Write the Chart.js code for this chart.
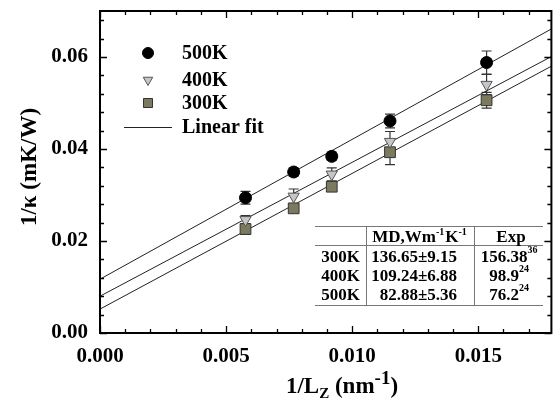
<!DOCTYPE html>
<html><head><meta charset="utf-8">
<script src="https://cdn.jsdelivr.net/npm/chart.js@4/dist/chart.umd.min.js"></script>
<style>html,body{margin:0;padding:0;background:#fff}#wrap{width:560px;height:401px;position:relative}</style>
</head><body><div id="wrap"><canvas id="c"></canvas></div>
<script>
// ---- data ----
const xValues = [0.00577, 0.00768, 0.00919, 0.0115, 0.01533];
const k500 = [0.0294, 0.0350, 0.0384, 0.0461, 0.0588];
const k400 = [0.0246, 0.0297, 0.0345, 0.0416, 0.0540];
const k300 = [0.0226, 0.0271, 0.0318, 0.0393, 0.0506];
const err500 = [0.0014, 0.0009, 0.0009, 0.0015, 0.0025];
const err400 = [0.0009, 0.0016, 0.0014, 0.0022, 0.0022];
const err300 = [0.0011, 0.0008, 0.0010, 0.0027, 0.0017];
const fitX = [0, 0.0179];
const fit500 = [0.0117, 0.0661];
const fit400 = [0.0080, 0.0601];
const fit300 = [0.0052, 0.0580];
const seriesNames = ['500K', '400K', '300K'];
const fitName = 'Linear fit';
const xTickLabels = ['0.000', '0.005', '0.010', '0.015'];
const yTickLabels = ['0.00', '0.02', '0.04', '0.06'];
const xMajor = 0.005, xMinor = 0.001, yMajor = 0.02, yMinor = 0.004;
const tableRowNames = ['300K', '400K', '500K'];
const tableMD = ['136.65\u00b19.15', '109.24\u00b16.88', '82.88\u00b15.36'];
const tableExp = ['156.38', '98.9', '76.2'];
const tableExpRef = ['36', '24', '24'];

const SERIF = '"Liberation Serif", "Times New Roman", serif';
const styles = [
  {pointStyle: 'circle', radius: 6, bg: '#000', border: '#000', rot: 0},
  {pointStyle: 'triangle', radius: 6.5, bg: '#c6c6c6', border: '#555', rot: 180},
  {pointStyle: 'rect', radius: 7.6, bg: '#7b7a5f', border: '#333', rot: 0}
];
const seriesVals = [k500, k400, k300];
const seriesErr = [err500, err400, err300];
const fits = [fit500, fit400, fit300];

function pts(xs, ys) { return xs.map((x, i) => ({x: x, y: ys[i]})); }

const datasets = [];
seriesVals.forEach((v, i) => {
  datasets.push({
    label: seriesNames[i], data: pts(xValues, v), showLine: false,
    pointStyle: styles[i].pointStyle, pointRadius: styles[i].radius, pointRotation: styles[i].rot,
    pointBackgroundColor: styles[i].bg, pointBorderColor: styles[i].border, pointBorderWidth: 1,
    pointHoverRadius: styles[i].radius
  });
});
fits.forEach((f, i) => {
  datasets.push({
    label: fitName, data: pts(fitX, f), showLine: true, borderColor: '#222', borderWidth: 1,
    pointRadius: 0, fill: false
  });
});

function isMult(v, step) { return Math.abs(v / step - Math.round(v / step)) < 1e-6; }

function drawMarker(ctx, st, x, y) {
  ctx.save();
  ctx.fillStyle = st.bg; ctx.strokeStyle = st.border; ctx.lineWidth = 1;
  ctx.beginPath();
  if (st.pointStyle === 'circle') {
    ctx.arc(x, y, st.radius - 0.5, 0, Math.PI * 2);
  } else if (st.pointStyle === 'triangle') {
    const r = st.radius - 1;
    ctx.moveTo(x, y + r);
    ctx.lineTo(x - r * 0.866, y - r * 0.5);
    ctx.lineTo(x + r * 0.866, y - r * 0.5);
    ctx.closePath();
  } else {
    const h = 4.5;
    ctx.rect(x - h, y - h, 2 * h, 2 * h);
  }
  ctx.fill(); ctx.stroke();
  ctx.restore();
}

const customPlugin = {
  id: 'custom',
  beforeDatasetsDraw(chart) {
    const ctx = chart.ctx, xs = chart.scales.x, ys = chart.scales.y;
    ctx.save();
    ctx.strokeStyle = '#333'; ctx.lineWidth = 1.2;
    seriesVals.forEach((vals, si) => {
      vals.forEach((v, i) => {
        const px = xs.getPixelForValue(xValues[i]);
        const yt = ys.getPixelForValue(v + seriesErr[si][i]);
        const yb = ys.getPixelForValue(v - seriesErr[si][i]);
        ctx.beginPath();
        ctx.moveTo(px, yt); ctx.lineTo(px, yb);
        ctx.moveTo(px - 5, yt); ctx.lineTo(px + 5, yt);
        ctx.moveTo(px - 5, yb); ctx.lineTo(px + 5, yb);
        ctx.stroke();
      });
    });
    ctx.restore();
  },
  afterDraw(chart) {
    const ctx = chart.ctx, xs = chart.scales.x, ys = chart.scales.y, a = chart.chartArea;
    ctx.save();
    // frame
    ctx.strokeStyle = '#000'; ctx.lineWidth = 2;
    ctx.strokeRect(a.left, a.top, a.right - a.left, a.bottom - a.top);
    // ticks
    ctx.lineWidth = 1.3;
    ctx.beginPath();
    for (let k = 0; k * xMinor <= xs.max + 1e-9; k++) {
      const v = k * xMinor;
      const px = Math.round(xs.getPixelForValue(v)) + 0.5;
      const len = isMult(v, xMajor) ? 7 : 4;
      ctx.moveTo(px, a.bottom); ctx.lineTo(px, a.bottom - len);
      ctx.moveTo(px, a.top); ctx.lineTo(px, a.top + len);
    }
    for (let k = 0; k * yMinor <= ys.max + 1e-9; k++) {
      const v = k * yMinor;
      const py = Math.round(ys.getPixelForValue(v)) + 0.5;
      const len = isMult(v, yMajor) ? 7 : 4;
      ctx.moveTo(a.left, py); ctx.lineTo(a.left + len, py);
      ctx.moveTo(a.right, py); ctx.lineTo(a.right - len, py);
    }
    ctx.stroke();

    // legend
    const lx = 148, tx = 182;
    const rows = [53, 80, 103, 127];
    ctx.font = 'bold 20px ' + SERIF;
    ctx.fillStyle = '#000'; ctx.textBaseline = 'middle'; ctx.textAlign = 'left';
    styles.forEach((st, i) => {
      drawMarker(ctx, st, lx, rows[i]);
      ctx.fillStyle = '#000';
      ctx.fillText(seriesNames[i], tx, rows[i] + 1);
    });
    ctx.strokeStyle = '#222'; ctx.lineWidth = 1;
    ctx.beginPath(); ctx.moveTo(124, rows[3] + 0.5); ctx.lineTo(172, rows[3] + 0.5); ctx.stroke();
    ctx.fillText(fitName, tx, rows[3] + 1);

    // table
    ctx.strokeStyle = '#777'; ctx.lineWidth = 1;
    const tL = 315, tR = 543, tTop = 226.5, tH2 = 245.5, tBot = 305.5, v1 = 366.5, v2 = 474.5;
    ctx.beginPath();
    ctx.moveTo(tL, tTop); ctx.lineTo(tR, tTop);
    ctx.moveTo(tL, tH2); ctx.lineTo(tR, tH2);
    ctx.moveTo(tL, tBot); ctx.lineTo(tR, tBot);
    ctx.moveTo(v1, tTop); ctx.lineTo(v1, tBot);
    ctx.moveTo(v2, tTop); ctx.lineTo(v2, tBot);
    ctx.stroke();
    ctx.fillStyle = '#000';
    const big = 'bold 17px ' + SERIF, small = 'bold 10px ' + SERIF;
    const hy = 238;
    const parts = [['MD,Wm', 0], ['-1', 1], ['K', 0], ['-1', 1]];
    let w = 0;
    parts.forEach(p => { ctx.font = p[1] ? small : big; w += ctx.measureText(p[0]).width + (p[1] ? 1 : 0); });
    let cx = 420 - w / 2;
    parts.forEach(p => {
      ctx.font = p[1] ? small : big;
      ctx.textAlign = 'left';
      ctx.fillText(p[0], cx, p[1] ? hy - 6 : hy);
      cx += ctx.measureText(p[0]).width + (p[1] ? 1 : 0);
    });
    ctx.font = big; ctx.textAlign = 'center';
    ctx.fillText('Exp', 511, hy);
    const ry = [257.5, 276.5, 295.5];
    tableRowNames.forEach((n, i) => {
      ctx.font = big; ctx.textAlign = 'right';
      ctx.fillText(n, 360, ry[i]);
      ctx.fillText(tableMD[i], 457, ry[i]);
      const w1 = ctx.measureText(tableExp[i]).width;
      ctx.font = small;
      const w2 = ctx.measureText(tableExpRef[i]).width;
      const sx = 509 - (w1 + w2) / 2;
      ctx.textAlign = 'left';
      ctx.font = big; ctx.fillText(tableExp[i], sx, ry[i]);
      ctx.font = small; ctx.fillText(tableExpRef[i], sx + w1, ry[i] - 7);
    });

    // axis titles
    ctx.fillStyle = '#000';
    ctx.save();
    ctx.translate(30, 167);
    ctx.rotate(-Math.PI / 2);
    ctx.font = 'bold 23px ' + SERIF; ctx.textAlign = 'center'; ctx.textBaseline = 'middle';
    ctx.fillText('1/\u03ba (mK/W)', 0, 0);
    ctx.restore();

    const by = 393;
    const xp = [['1/L', 'n'], ['Z', 'sub'], [' (nm', 'n'], ['-1', 'sup'], [')', 'n']];
    const fN = 'bold 23px ' + SERIF, fSub = 'bold 15px ' + SERIF, fSup = 'bold 19px ' + SERIF;
    const fontOf = t => t === 'n' ? fN : (t === 'sub' ? fSub : fSup);
    let tw = 0;
    xp.forEach(p => { ctx.font = fontOf(p[1]); tw += ctx.measureText(p[0]).width; });
    let x0 = 342 - tw / 2;
    ctx.textAlign = 'left'; ctx.textBaseline = 'alphabetic';
    xp.forEach(p => {
      ctx.font = fontOf(p[1]);
      const dy = p[1] === 'sub' ? 5 : (p[1] === 'sup' ? -9 : 0);
      ctx.fillText(p[0], x0, by + dy);
      x0 += ctx.measureText(p[0]).width;
    });
    ctx.restore();
  }
};

new Chart(document.getElementById('c'), {
  type: 'scatter',
  data: {datasets: datasets},
  options: {
    responsive: true, maintainAspectRatio: false, animation: false,
    layout: {padding: {top: 11, right: 2, left: 0, bottom: 0}},
    plugins: {legend: {display: false}, tooltip: {enabled: false}},
    scales: {
      x: {
        type: 'linear', min: 0, max: 0.0179,
        grid: {display: false, drawTicks: false}, border: {display: false},
        afterFit: s => { s.height = 68; s.paddingLeft = 0; s.paddingRight = 0; },
        ticks: {
          stepSize: xMajor, includeBounds: false, autoSkip: false, maxRotation: 0, padding: 11,
          color: '#000', font: {family: SERIF, size: 21, weight: 'bold'},
          callback: v => isMult(v, xMajor) ? (xTickLabels[Math.round(v / xMajor)] || '') : ''
        }
      },
      y: {
        type: 'linear', min: 0, max: 0.07,
        grid: {display: false, drawTicks: false}, border: {display: false},
        afterFit: s => { s.width = 100; s.paddingTop = 0; s.paddingBottom = 0; },
        ticks: {
          stepSize: yMajor, includeBounds: false, autoSkip: false, padding: 12,
          color: '#000', font: {family: SERIF, size: 21, weight: 'bold'},
          callback: v => isMult(v, yMajor) ? (yTickLabels[Math.round(v / yMajor)] || '') : ''
        }
      }
    }
  },
  plugins: [customPlugin]
});
</script>
</body></html>
